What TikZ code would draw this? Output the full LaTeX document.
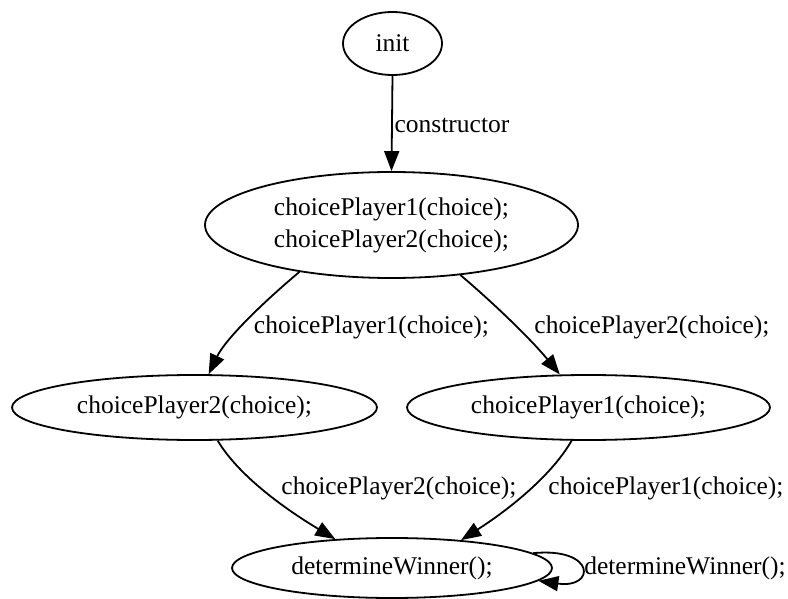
\documentclass[tikz,border=0pt]{standalone}
\usepackage{fontspec}
\setmainfont{Liberation Serif}
\usetikzlibrary{shapes.geometric,arrows.meta}

\tikzset{
  state/.style={draw, ellipse, line width=1.8pt, inner sep=0pt, align=center},
  trans/.style={line width=1.8pt, -{Triangle[length=20pt,width=15pt]}},
  lbl/.style={inner sep=0pt, anchor=center}
}

\begin{document}
\begin{tikzpicture}[x=1pt, y=-1pt, font=\fontsize{25.5}{32}\selectfont]
  \useasboundingbox (0,0) rectangle (788,599);

  % states
  \node[state, minimum width=99pt, minimum height=63pt] (init) at (392.5,43.5) {init};
  \node[state, minimum width=373pt, minimum height=106pt] (both) at (391.5,225)
    {choicePlayer1(choice);\\choicePlayer2(choice);};
  \node[state, minimum width=365pt, minimum height=65pt] (wait2) at (194.5,407.5) {choicePlayer2(choice);};
  \node[state, minimum width=363pt, minimum height=65pt] (wait1) at (588.5,407.5) {choicePlayer1(choice);};
  \node[state, minimum width=320pt, minimum height=60pt] (winner) at (392,568) {determineWinner();};

  % transitions
  \draw[trans] (init.south) -- (both.north);
  \draw[trans] (both.207.7) .. controls (260,305) and (225,340) .. (wait2.67.4);
  \draw[trans] (both.324.2) .. controls (490,300) and (530,338) .. (wait1.131.2);
  \draw[trans] (wait2.305.9) .. controls (240,478) and (290,512) .. (winner.153.4);
  \draw[trans] (wait1.243.1) .. controls (550,478) and (505,512) .. (winner.22.9);
  \draw[trans] (winner.6.1) .. controls (596,547) and (596,589) .. (winner.-5.5);

  % transition labels
  \node[lbl] (lconstr) at (452,125) {constructor};
  \node[lbl] (lp1a) at (371.5,327) {choicePlayer1(choice);};
  \node[lbl] (lp2a) at (652,327) {choicePlayer2(choice);};
  \node[lbl] (lp2b) at (399,488) {choicePlayer2(choice);};
  \node[lbl] (lp1b) at (666,488) {choicePlayer1(choice);};
  \node[lbl] (lwin) at (685,568) {determineWinner();};
\end{tikzpicture}
\end{document}
